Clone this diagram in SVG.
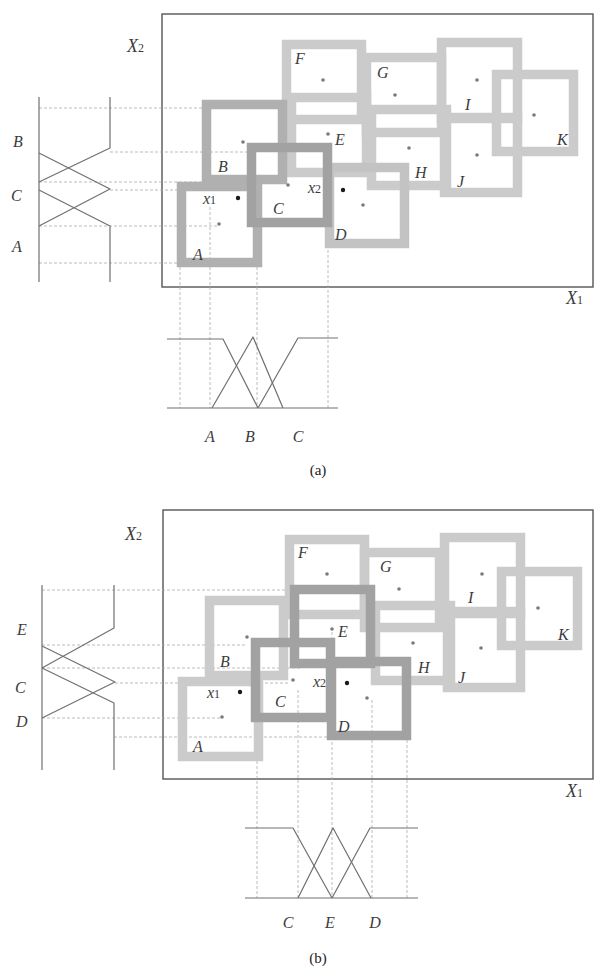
<svg xmlns="http://www.w3.org/2000/svg" width="597" height="967" viewBox="0 0 597 967">
<style>
.frame{fill:none;stroke:#555;stroke-width:1.4}
.mf{fill:none;stroke:#707070;stroke-width:1.2;stroke-linejoin:round}
.guide{fill:none;stroke:#ababab;stroke-width:0.8;stroke-dasharray:3 2}
.box{fill:none;stroke-width:9.5}
.light{stroke:#cbcbcb}
.mid{stroke:#b0b0b0}
.dark{stroke:#a2a2a2}
.lbl{font-family:"Liberation Serif",serif;font-style:italic;font-size:16px;fill:#3c3c3c}
.ax{font-family:"Liberation Serif",serif;font-style:italic;font-size:18px;fill:#3c3c3c}
.sub{font-style:normal;font-size:12px}
.cap{font-family:"Liberation Serif",serif;font-size:15px;fill:#222;text-anchor:middle}
.mid-t{text-anchor:middle}
.dot{fill:#7a7a7a}
.pt{fill:#1a1a1a}
</style>
<rect width="597" height="967" fill="#fff"/>

<!-- ===== Panel (a) ===== -->
<g id="frame-a">
<rect class="frame" x="162" y="14" width="431" height="273"/>
<text class="ax" x="127" y="52">X<tspan class="sub">2</tspan></text>
<text class="ax" x="566" y="304">X<tspan class="sub">1</tspan></text>
</g>

<g id="connectors-a">
<path class="guide" d="M39,108H205M110,152H248M39,182H288M110,190H178M39,226H218M39,263H178"/>
<path class="guide" d="M180,267V408M210,207V408M257,227V408M328,230V408"/>
</g>

<g id="mf-x2-a">
<path class="mf" d="M39,97V282"/>
<path class="mf" d="M110,97V148L39,182"/>
<path class="mf" d="M39,153L110,189L39,226"/>
<path class="mf" d="M39,190L110,226V282"/>
<text class="lbl" x="13" y="147">B</text>
<text class="lbl" x="11" y="201">C</text>
<text class="lbl" x="12" y="252">A</text>
</g>

<g id="mf-x1-a">
<path class="mf" d="M167,408H338"/>
<path class="mf" d="M167,339H223L258,408"/>
<path class="mf" d="M212,408L253,337L283,408"/>
<path class="mf" d="M258,408L298,338H338"/>
<text class="lbl mid-t" x="210" y="442">A</text>
<text class="lbl mid-t" x="250" y="442">B</text>
<text class="lbl mid-t" x="298" y="442">C</text>
</g>

<g id="box-a-F"><rect class="box light" x="286.5" y="44.5" width="75" height="75"/><circle class="dot" cx="323" cy="80" r="1.8"/><text class="lbl" x="295" y="64">F</text></g>
<g id="box-a-G"><rect class="box light" x="366.5" y="57.5" width="75" height="75"/><circle class="dot" cx="395" cy="95" r="1.8"/><text class="lbl" x="377" y="78">G</text></g>
<g id="box-a-I"><rect class="box light" x="441.5" y="42.5" width="76" height="76"/><circle class="dot" cx="477" cy="80" r="1.8"/><text class="lbl" x="465" y="110">I</text></g>
<g id="box-a-K"><rect class="box light" x="496.5" y="74.5" width="77" height="77"/><circle class="dot" cx="534" cy="115" r="1.8"/><text class="lbl" x="557" y="145">K</text></g>
<g id="box-a-E"><rect class="box light" x="291.5" y="97.5" width="75" height="75"/><circle class="dot" cx="328" cy="134" r="1.8"/><text class="lbl" x="335" y="145">E</text></g>
<g id="box-a-H"><rect class="box light" x="371.5" y="109.5" width="75" height="76"/><circle class="dot" cx="409" cy="148" r="1.8"/><text class="lbl" x="415" y="178">H</text></g>
<g id="box-a-J"><rect class="box light" x="444.5" y="117.5" width="73" height="75"/><circle class="dot" cx="477" cy="155" r="1.8"/><text class="lbl" x="457" y="187">J</text></g>
<g id="box-a-D"><rect class="box light" x="329.5" y="167.5" width="75" height="76" style="stroke:#c3c3c3"/><circle class="dot" cx="363" cy="205" r="1.8"/><text class="lbl" x="335" y="240">D</text></g>
<g id="box-a-A"><rect class="box mid" x="181.5" y="186.5" width="76" height="76"/><circle class="dot" cx="219" cy="224" r="1.8"/><text class="lbl" x="193" y="260">A</text></g>
<g id="box-a-B"><rect class="box mid" x="206.5" y="104.5" width="76" height="75"/><circle class="dot" cx="243" cy="142" r="1.8"/><text class="lbl" x="218" y="172">B</text></g>
<g id="box-a-C"><rect class="box dark" x="251.5" y="147.5" width="76" height="75"/><circle class="dot" cx="288" cy="185" r="1.8"/><text class="lbl" x="273" y="214">C</text></g>
<g id="input-a">
<text class="lbl" x="203" y="204">x<tspan class="sub">1</tspan></text>
<circle class="pt" cx="238" cy="198" r="2.2"/>
<text class="lbl" x="308" y="193">x<tspan class="sub">2</tspan></text>
<circle class="pt" cx="343" cy="190" r="2.2"/>
</g>
<text class="cap" x="318" y="475">(a)</text>

<!-- ===== Panel (b) ===== -->
<g id="frame-b">
<rect class="frame" x="163" y="510" width="430" height="269"/>
<text class="ax" x="125" y="540">X<tspan class="sub">2</tspan></text>
<text class="ax" x="566" y="797">X<tspan class="sub">1</tspan></text>
</g>

<g id="connectors-b">
<path class="guide" d="M42,590H290M42,645H247M42,668H300M115,683H290M42,718H222M114,737H327"/>
<path class="guide" d="M257,761V898M298,690V898M332,632V898M372,700V898M407,740V898"/>
</g>

<g id="mf-x2-b">
<path class="mf" d="M42,585V770"/>
<path class="mf" d="M114,585V628L42,668"/>
<path class="mf" d="M42,646L115,682L42,718"/>
<path class="mf" d="M42,668L114,703V770"/>
<text class="lbl" x="17" y="635">E</text>
<text class="lbl" x="15" y="693">C</text>
<text class="lbl" x="16" y="727">D</text>
</g>

<g id="mf-x1-b">
<path class="mf" d="M245,898H418"/>
<path class="mf" d="M245,828H293L332,898"/>
<path class="mf" d="M298,898L333,828L371,898"/>
<path class="mf" d="M332,898L370,828H418"/>
<text class="lbl mid-t" x="288" y="928">C</text>
<text class="lbl mid-t" x="330" y="928">E</text>
<text class="lbl mid-t" x="375" y="928">D</text>
</g>

<g id="box-b-F"><rect class="box light" x="289.5" y="539.5" width="75" height="75"/><circle class="dot" cx="327" cy="574" r="1.8"/><text class="lbl" x="298" y="558">F</text></g>
<g id="box-b-G"><rect class="box light" x="364.5" y="552.5" width="75" height="75"/><circle class="dot" cx="399" cy="589" r="1.8"/><text class="lbl" x="380" y="572">G</text></g>
<g id="box-b-I"><rect class="box light" x="444.5" y="537.5" width="76" height="76"/><circle class="dot" cx="482" cy="574" r="1.8"/><text class="lbl" x="468" y="603">I</text></g>
<g id="box-b-K"><rect class="box light" x="501.5" y="571.5" width="76" height="74"/><circle class="dot" cx="538" cy="608" r="1.8"/><text class="lbl" x="558" y="640">K</text></g>
<g id="box-b-H"><rect class="box light" x="375.5" y="605.5" width="75" height="75"/><circle class="dot" cx="413" cy="643" r="1.8"/><text class="lbl" x="418" y="673">H</text></g>
<g id="box-b-J"><rect class="box light" x="447.5" y="611.5" width="73" height="76"/><circle class="dot" cx="481" cy="648" r="1.8"/><text class="lbl" x="458" y="683">J</text></g>
<g id="box-b-B"><rect class="box light" x="209.5" y="600.5" width="74" height="75"/><circle class="dot" cx="247" cy="637" r="1.8"/><text class="lbl" x="220" y="667">B</text></g>
<g id="box-b-A"><rect class="box light" x="182.5" y="681.5" width="76" height="75"/><circle class="dot" cx="222" cy="717" r="1.8"/><text class="lbl" x="193" y="752">A</text></g>
<g id="box-b-E"><rect class="box dark" x="294.5" y="589.5" width="76" height="74"/><circle class="dot" cx="332" cy="629" r="1.8"/><text class="lbl" x="338" y="637">E</text></g>
<g id="box-b-D"><rect class="box dark" x="331.5" y="661.5" width="75" height="74"/><circle class="dot" cx="367" cy="698" r="1.8"/><text class="lbl" x="338" y="732">D</text></g>
<g id="box-b-C"><rect class="box dark" x="255.5" y="642.5" width="75" height="75"/><circle class="dot" cx="293" cy="680" r="1.8"/><text class="lbl" x="275" y="707">C</text></g>
<g id="input-b">
<text class="lbl" x="207" y="698">x<tspan class="sub">1</tspan></text>
<circle class="pt" cx="240" cy="692" r="2.2"/>
<text class="lbl" x="313" y="687">x<tspan class="sub">2</tspan></text>
<circle class="pt" cx="347" cy="683" r="2.2"/>
</g>
<text class="cap" x="318" y="963">(b)</text>
</svg>
